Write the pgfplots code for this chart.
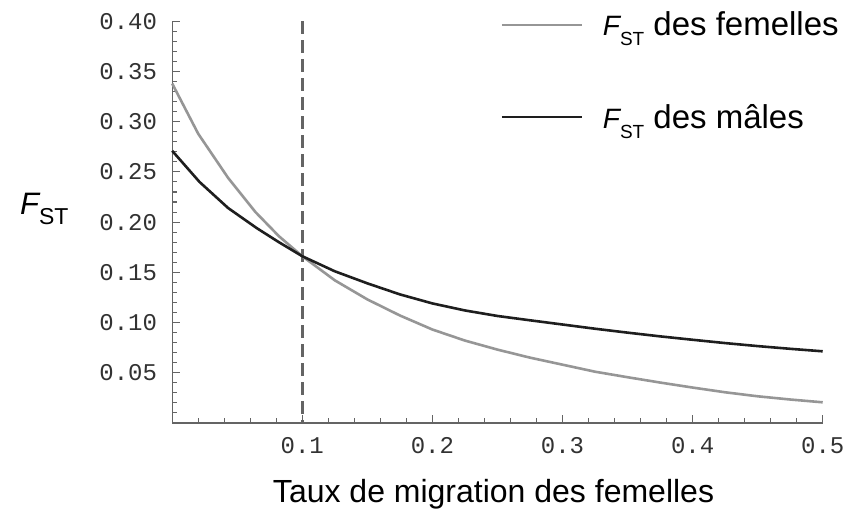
\documentclass[border=0pt]{standalone}
\usepackage{fontspec}
\setmainfont{Liberation Sans}
\newfontfamily\tickfont{Liberation Mono}
\usepackage{pgfplots}
\pgfplotsset{compat=1.18}
\definecolor{femc}{RGB}{150,150,150}
\definecolor{malc}{RGB}{30,30,30}
\definecolor{axc}{RGB}{100,100,100}
\definecolor{tickc}{RGB}{50,50,50}
\newcommand{\FST}{{\fontsize{28bp}{30bp}\selectfont\itshape F}\raisebox{-10bp}{\fontsize{19bp}{20bp}\selectfont ST}}
\newcommand{\FSTbig}{{\fontsize{31bp}{32bp}\selectfont\itshape F}\raisebox{-10bp}{\fontsize{23bp}{24bp}\selectfont ST}}
\begin{document}
\begin{tikzpicture}
\path[use as bounding box] (-172.2bp,-88.1bp) rectangle (675.8bp,422.9bp);
\begin{axis}[
  at={(0,0)}, anchor=south west,
  scale only axis, width=650.5bp, height=401.6bp,
  xmin=0, xmax=0.5, ymin=0, ymax=0.4,
  axis lines*=left,
  axis line style={draw=axc, line width=1.3bp},
  tick align=inside,
  tick style={draw=axc, line width=1.1bp},
  major tick length=8bp, minor tick length=5bp,
  xtick={0.1,0.2,0.3,0.4,0.5},
  xticklabels={0.1,0.2,0.3,0.4,0.5},
  minor xtick={0.02,0.04,0.06,0.08,0.12,0.14,0.16,0.18,0.22,0.24,0.26,0.28,0.32,0.34,0.36,0.38,0.42,0.44,0.46,0.48},
  ytick={0.05,0.10,0.15,0.20,0.25,0.30,0.35,0.40},
  yticklabels={0.05,0.10,0.15,0.20,0.25,0.30,0.35,0.40},
  minor ytick={0.01,0.02,0.03,0.04,0.06,0.07,0.08,0.09,0.11,0.12,0.13,0.14,0.16,0.17,0.18,0.19,0.21,0.22,0.23,0.24,0.26,0.27,0.28,0.29,0.31,0.32,0.33,0.34,0.36,0.37,0.38,0.39},
  xticklabel style={font=\tickfont\fontsize{24bp}{26bp}\selectfont, text=tickc, anchor=base, inner sep=0pt, yshift=-31bp},
  yticklabel style={font=\tickfont\fontsize{24bp}{26bp}\selectfont, text=tickc, anchor=east, inner sep=0pt, xshift=-15bp},
  xlabel={Taux de migration des femelles},
  every axis x label/.style={at={(axis description cs:0.494,-0.198)}, anchor=base, inner sep=0pt, font=\fontsize{32bp}{34bp}\selectfont},
  ylabel={\FSTbig},
  every axis y label/.style={at={(axis description cs:-0.234,0.5177)}, anchor=base west, inner sep=0pt},
  legend style={draw=none, fill=none, at={(axis description cs:0.505,1.0232)}, anchor=north west, inner sep=0pt, outer sep=0pt, row sep=67bp, font=\fontsize{33bp}{36bp}\selectfont, nodes={inner sep=0pt}, /tikz/every odd column/.append style={column sep=20bp}},
  legend cell align=left,
  legend image code/.code={\draw[#1, line width=2.2bp] (0bp,0bp) -- (80bp,0bp);},
  clip=false,
]
\addplot[color=axc, dash pattern=on 13bp off 6bp, line width=3bp, forget plot] coordinates {(0.1,0.4) (0.1,0)};
\addplot[femc, line width=2.6bp] coordinates {
(0,0.338) (0.02,0.288) (0.043,0.244) (0.064,0.210) (0.082,0.186) (0.1,0.166)
(0.125,0.142) (0.15,0.123) (0.175,0.107) (0.2,0.093) (0.225,0.082) (0.25,0.073)
(0.275,0.065) (0.3,0.058) (0.325,0.051) (0.35,0.0455) (0.375,0.0402) (0.4,0.0352)
(0.425,0.0305) (0.45,0.0265) (0.475,0.0233) (0.5,0.0205)};
\addlegendentry{\FST\ des femelles}
\addplot[malc, line width=2.6bp] coordinates {
(0,0.271) (0.021,0.240) (0.043,0.214) (0.065,0.194) (0.082,0.180) (0.1,0.166)
(0.125,0.151) (0.15,0.139) (0.175,0.128) (0.2,0.119) (0.225,0.112) (0.25,0.1065)
(0.275,0.1022) (0.3,0.098) (0.325,0.0938) (0.35,0.0899) (0.375,0.0862) (0.4,0.0828)
(0.425,0.0795) (0.45,0.0765) (0.475,0.0738) (0.5,0.0713)};
\addlegendentry{\FST\ des mâles}
\end{axis}
\end{tikzpicture}
\end{document}
